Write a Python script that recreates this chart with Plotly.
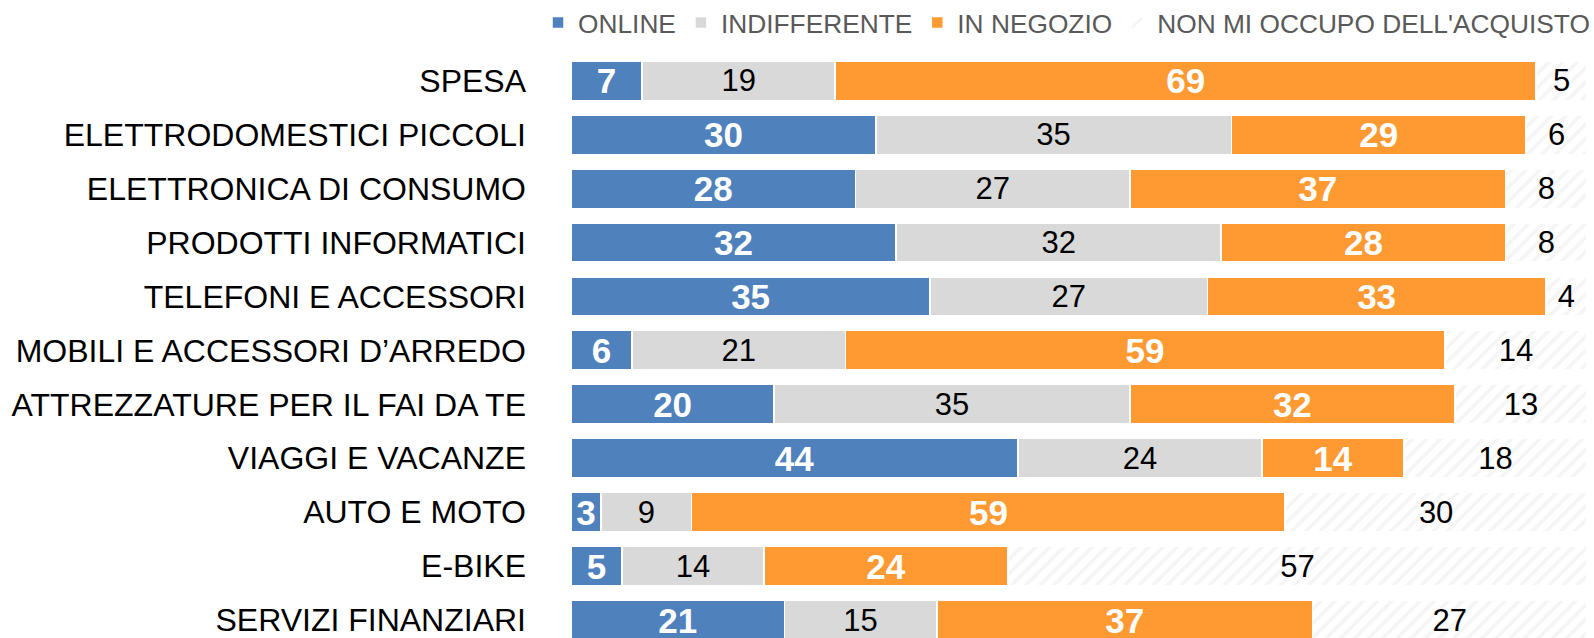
import plotly.graph_objects as go

categories = [
    "SPESA",
    "ELETTRODOMESTICI PICCOLI",
    "ELETTRONICA DI CONSUMO",
    "PRODOTTI INFORMATICI",
    "TELEFONI E ACCESSORI",
    "MOBILI E ACCESSORI D\u2019ARREDO",
    "ATTREZZATURE PER IL FAI DA TE",
    "VIAGGI E VACANZE",
    "AUTO E MOTO",
    "E-BIKE",
    "SERVIZI FINANZIARI",
]
online = [7, 30, 28, 32, 35, 6, 20, 44, 3, 5, 21]
indifferente = [19, 35, 27, 32, 27, 21, 35, 24, 9, 14, 15]
in_negozio = [69, 29, 37, 28, 33, 59, 32, 14, 59, 24, 37]
non_mi_occupo = [5, 6, 8, 8, 4, 14, 13, 18, 30, 57, 27]

series_names = ["ONLINE", "INDIFFERENTE", "IN NEGOZIO", "NON MI OCCUPO DELL'ACQUISTO"]

FONT = "Liberation Sans, Arial, sans-serif"
W, H = 1594, 638
ML, MR, MT, MB = 571, 7, 50, 0
row_px = 53.94
row0_px = 80.7
plot_h = H - MT - MB
top = -(row0_px - MT) / row_px
bottom = top + plot_h / row_px

ypos = list(range(len(categories)))

fig = go.Figure()

specs = [
    (online, series_names[0], "#4F81BD", None, dict(color="white", size=35, family=FONT, weight="bold")),
    (indifferente, series_names[1], "#D9D9D9", None, dict(color="black", size=31, family=FONT)),
    (in_negozio, series_names[2], "#FF9A33", None, dict(color="white", size=35, family=FONT, weight="bold")),
    (non_mi_occupo, series_names[3], "white",
     dict(shape="/", fgcolor="#EBEBEB", bgcolor="white", size=10, solidity=0.35),
     dict(color="black", size=31, family=FONT)),
]

for vals, name, color, pattern, tfont in specs:
    marker = dict(color=color, line=dict(color="white", width=1.5))
    if pattern:
        marker["pattern"] = pattern
    fig.add_trace(go.Bar(
        y=ypos, x=vals, name=name, orientation="h",
        marker=marker, width=0.73,
        text=[str(v) for v in vals], texttemplate="%{text}",
        textposition="inside", insidetextanchor="middle",
        constraintext="none", textangle=0,
        textfont=tfont, insidetextfont=tfont,
        hoverinfo="skip",
    ))

fig.update_layout(
    width=W, height=H,
    barmode="stack", barnorm="percent",
    plot_bgcolor="white", paper_bgcolor="white",
    margin=dict(l=ML, r=MR, t=MT, b=MB, autoexpand=False),
    font=dict(family=FONT, color="black"),
    legend=dict(
        orientation="h", x=(538 - ML) / (W - ML - MR), xanchor="left",
        y=1 + (MT - 23) / plot_h, yanchor="middle",
        font=dict(size=26.3, color="#595959", family=FONT),
        traceorder="normal", itemwidth=30, bgcolor="rgba(0,0,0,0)",
    ),
    xaxis=dict(range=[0, 100], visible=False, showgrid=False, zeroline=False),
    yaxis=dict(
        range=[bottom, top], tickmode="array", tickvals=ypos, ticktext=categories,
        tickfont=dict(size=32, color="black", family=FONT),
        showgrid=False, zeroline=False, showline=False, ticks="",
        ticklabelstandoff=44, ticklabeloverflow="allow",
    ),
)

fig.write_html(
    "out.html",
    config={"displayModeBar": False},
    post_script="document.body.style.margin='0';",
)
